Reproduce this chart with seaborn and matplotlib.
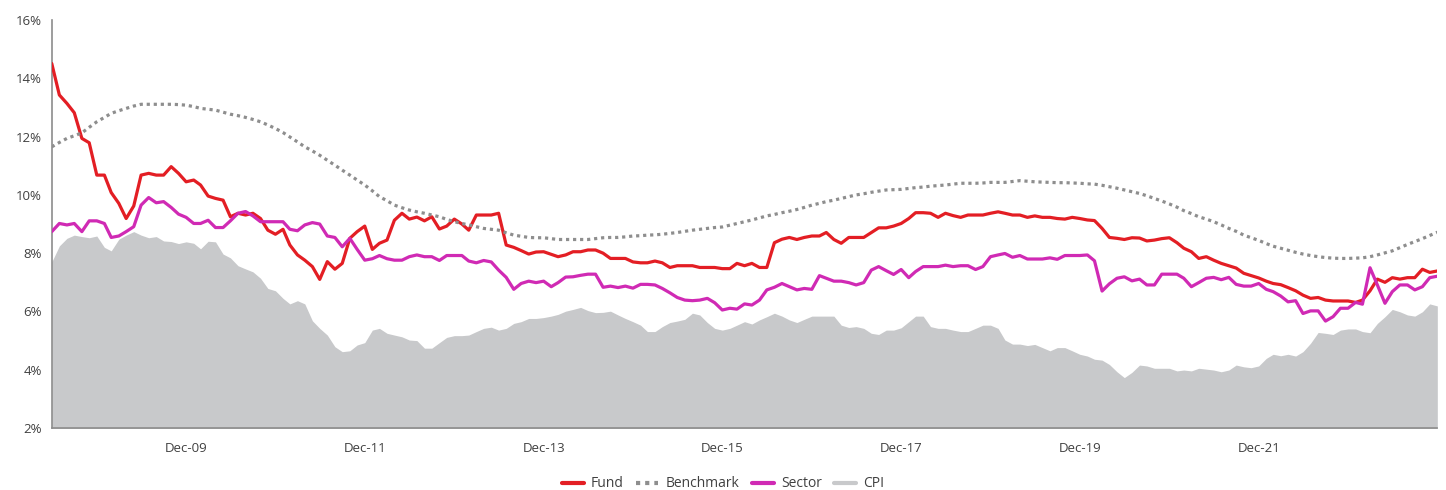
import pandas as pd
import matplotlib
matplotlib.use('Agg')
import matplotlib.pyplot as plt
from matplotlib.ticker import FuncFormatter
from matplotlib.lines import Line2D
import seaborn as sns

# monthly rolling returns, Jun-08 .. Dec-23 (%)
months = pd.date_range('2008-06-30', periods=187, freq='ME')

fund = [14.51, 13.43, 13.14, 12.82, 11.94, 11.79, 10.68, 10.68, 10.08, 9.71, 9.19, 9.62, 10.68, 10.74,
        10.68, 10.68, 10.97, 10.74, 10.45, 10.51, 10.34, 9.96, 9.88, 9.82, 9.25, 9.37, 9.31,
        9.37, 9.19, 8.79, 8.65, 8.82, 8.28, 7.94, 7.76, 7.54, 7.10, 7.71, 7.45, 7.65, 8.51, 8.74,
        8.93, 8.13, 8.34, 8.45, 9.13, 9.37, 9.17, 9.24, 9.11, 9.25, 8.83, 8.93, 9.17, 9.00, 8.79,
        9.31, 9.31, 9.31,
        9.37, 8.28, 8.20, 8.09, 7.97, 8.04, 8.05, 7.96, 7.88, 7.94, 8.05, 8.05, 8.11, 8.11, 8.00,
        7.82, 7.82, 7.82, 7.70, 7.67, 7.67, 7.73, 7.67, 7.51, 7.57, 7.57, 7.57, 7.51, 7.51, 7.51,
        7.47, 7.47,
        7.65, 7.57, 7.65, 7.51, 7.51, 8.36, 8.48, 8.54, 8.47, 8.54, 8.59, 8.59, 8.71, 8.47, 8.34,
        8.54, 8.54, 8.54, 8.71, 8.87, 8.87, 8.93, 9.02, 9.19, 9.39, 9.39, 9.37, 9.23, 9.37, 9.29,
        9.23, 9.31,
        9.31, 9.31, 9.37, 9.42, 9.37, 9.31, 9.31, 9.23, 9.28, 9.23, 9.23, 9.19, 9.17, 9.23, 9.19,
        9.14, 9.12, 8.85, 8.54, 8.51, 8.47, 8.53, 8.52, 8.42, 8.45, 8.50, 8.53, 8.36, 8.17, 8.05,
        7.82, 7.88,
        7.76, 7.65, 7.57, 7.49, 7.31, 7.23, 7.15, 7.04, 6.96, 6.92, 6.82, 6.71, 6.56, 6.45, 6.48,
        6.39, 6.36, 6.36, 6.36, 6.31, 6.39, 6.71, 7.11, 7.00, 7.16, 7.11, 7.16, 7.16, 7.45, 7.34,
        7.39]

benchmark = [11.65, 11.80, 11.94, 12.03, 12.13, 12.32, 12.51, 12.66, 12.80, 12.89, 12.97, 13.05,
             13.11, 13.11, 13.11, 13.11, 13.11, 13.10, 13.08, 13.03, 12.97, 12.94, 12.91, 12.84,
             12.77, 12.72, 12.66,
             12.59, 12.51, 12.40, 12.28, 12.14, 11.99, 11.82, 11.65, 11.51, 11.36, 11.19, 11.02,
             10.85, 10.68, 10.51, 10.34, 10.14, 9.94, 9.80, 9.65, 9.56, 9.48, 9.42, 9.37, 9.31,
             9.25, 9.16, 9.08, 9.02, 8.97, 8.91, 8.85, 8.82,
             8.79, 8.70, 8.62, 8.58, 8.54, 8.53, 8.53, 8.50, 8.47, 8.47, 8.47, 8.47, 8.47, 8.50,
             8.53, 8.54, 8.54, 8.56, 8.59, 8.60, 8.62, 8.63, 8.65, 8.68, 8.71, 8.75, 8.79, 8.82,
             8.85, 8.88, 8.90, 8.96,
             9.02, 9.08, 9.14, 9.21, 9.28, 9.33, 9.39, 9.44, 9.50, 9.57, 9.65, 9.71, 9.77, 9.82,
             9.88, 9.94, 10.00, 10.04, 10.09, 10.13, 10.17, 10.18, 10.19, 10.22, 10.25, 10.27,
             10.30, 10.32, 10.34, 10.37, 10.40, 10.40,
             10.40, 10.41, 10.43, 10.43, 10.43, 10.46, 10.49, 10.47, 10.45, 10.44, 10.43, 10.42,
             10.42, 10.41, 10.40, 10.38, 10.37, 10.33, 10.28, 10.23, 10.17, 10.11, 10.05, 9.97,
             9.88, 9.79, 9.69, 9.58, 9.46, 9.36, 9.25, 9.17,
             9.08, 8.97, 8.85, 8.75, 8.62, 8.53, 8.44, 8.33, 8.24, 8.17, 8.10, 8.03, 7.97, 7.92,
             7.88, 7.85, 7.83, 7.82, 7.82, 7.83, 7.84, 7.88, 7.94, 8.01, 8.08, 8.19, 8.30, 8.40,
             8.50, 8.61, 8.72]

sector = [8.74, 9.02, 8.97, 9.02, 8.74, 9.11, 9.11, 9.02, 8.54, 8.59, 8.74, 8.91, 9.65, 9.91,
          9.73, 9.77, 9.57, 9.34, 9.23, 9.02, 9.02, 9.13, 8.88, 8.88, 9.11, 9.37, 9.43,
          9.28, 9.08, 9.08, 9.08, 9.08, 8.82, 8.77, 8.97, 9.05, 9.00, 8.59, 8.54, 8.22, 8.51,
          8.13, 7.76, 7.81, 7.92, 7.81, 7.76, 7.76, 7.88, 7.94, 7.88, 7.88, 7.75, 7.92, 7.92,
          7.92, 7.73, 7.67, 7.75, 7.70,
          7.42, 7.17, 6.76, 6.96, 7.04, 6.99, 7.04, 6.85, 6.99, 7.18, 7.19, 7.24, 7.28, 7.28,
          6.83, 6.87, 6.82, 6.87, 6.80, 6.93, 6.93, 6.91, 6.79, 6.64, 6.48, 6.39, 6.37, 6.39,
          6.45, 6.30, 6.05, 6.11,
          6.08, 6.26, 6.22, 6.39, 6.74, 6.83, 6.96, 6.85, 6.74, 6.79, 6.76, 7.23, 7.14, 7.04,
          7.04, 6.99, 6.91, 6.99, 7.42, 7.54, 7.40, 7.27, 7.44, 7.16, 7.37, 7.54, 7.54, 7.54,
          7.59, 7.54, 7.57, 7.57,
          7.44, 7.54, 7.88, 7.94, 7.99, 7.86, 7.92, 7.80, 7.80, 7.80, 7.84, 7.79, 7.92, 7.92,
          7.92, 7.94, 7.74, 6.70, 6.95, 7.14, 7.19, 7.05, 7.11, 6.91, 6.91, 7.28, 7.28, 7.28,
          7.14, 6.85, 6.99, 7.14,
          7.17, 7.09, 7.17, 6.93, 6.87, 6.87, 6.96, 6.76, 6.68, 6.53, 6.33, 6.37, 5.93, 6.02,
          6.02, 5.67, 5.82, 6.11, 6.11, 6.31, 6.25, 7.50, 6.91, 6.28, 6.68, 6.91, 6.91, 6.74,
          6.85, 7.16, 7.21]

cpi = [7.70, 8.25, 8.51, 8.62, 8.57, 8.53, 8.59, 8.20, 8.08, 8.48, 8.62, 8.74, 8.62, 8.53, 8.57,
       8.42, 8.40, 8.33, 8.39, 8.34, 8.15, 8.41, 8.39, 7.97, 7.84, 7.57, 7.46,
       7.36, 7.14, 6.79, 6.71, 6.45, 6.26, 6.37, 6.26, 5.68, 5.42, 5.19, 4.79, 4.62, 4.65, 4.85,
       4.93, 5.36, 5.42, 5.25, 5.19, 5.13, 5.02, 5.00, 4.74, 4.74, 4.93, 5.11, 5.17, 5.17, 5.19,
       5.31, 5.42, 5.46,
       5.36, 5.42, 5.59, 5.65, 5.76, 5.76, 5.79, 5.84, 5.90, 6.01, 6.07, 6.14, 6.03, 5.96, 5.97,
       6.01, 5.88, 5.76, 5.65, 5.53, 5.31, 5.31, 5.48, 5.62, 5.67, 5.73, 5.94, 5.88, 5.62, 5.42,
       5.36, 5.42,
       5.53, 5.65, 5.57, 5.71, 5.82, 5.94, 5.84, 5.71, 5.62, 5.73, 5.84, 5.84, 5.84, 5.84, 5.53,
       5.45, 5.48, 5.42, 5.25, 5.21, 5.36, 5.36, 5.44, 5.65, 5.84, 5.84, 5.48, 5.42, 5.42, 5.36,
       5.31, 5.31,
       5.42, 5.53, 5.53, 5.42, 5.02, 4.88, 4.88, 4.83, 4.87, 4.76, 4.65, 4.76, 4.76, 4.65, 4.53,
       4.47, 4.36, 4.33, 4.18, 3.93, 3.73, 3.91, 4.16, 4.13, 4.05, 4.05, 4.05, 3.96, 3.99, 3.96,
       4.05, 4.02,
       3.99, 3.93, 3.99, 4.16, 4.10, 4.07, 4.13, 4.39, 4.53, 4.48, 4.53, 4.47, 4.62, 4.91, 5.28,
       5.25, 5.21, 5.36, 5.40, 5.40, 5.31, 5.27, 5.59, 5.82, 6.07, 5.99, 5.88, 5.84, 5.99, 6.26,
       6.19]

tick_dates = ['2009-12-31', '2011-12-31', '2013-12-31', '2015-12-31',
              '2017-12-31', '2019-12-31', '2021-12-31']
tick_labels = ['Dec-09', 'Dec-11', 'Dec-13', 'Dec-15', 'Dec-17', 'Dec-19', 'Dec-21']

colors = {'Fund': '#e31e24', 'Benchmark': '#8e8e8e', 'Sector': '#d02ab4'}
cpi_color = '#c8c9cb'

df = pd.DataFrame({'Month': months, 'Fund': fund, 'Benchmark': benchmark,
                   'Sector': sector, 'CPI': cpi})
long_df = df.melt(id_vars='Month', value_vars=['Fund', 'Benchmark', 'Sector'],
                  var_name='Series', value_name='Return')

sns.set_style('white')
plt.rcParams['font.family'] = ['Open Sans', 'DejaVu Sans']

fig = plt.figure(figsize=(14.46, 4.9), dpi=100)
ax = fig.add_axes([0.0358, 0.1265, 0.9582, 0.8325])

ax.fill_between(df['Month'], df['CPI'], 0, color=cpi_color, lw=0, zorder=1)
sns.lineplot(data=long_df, x='Month', y='Return', hue='Series', style='Series',
             hue_order=['Fund', 'Benchmark', 'Sector'], palette=colors,
             dashes={'Fund': '', 'Benchmark': (1, 1.2), 'Sector': ''},
             linewidth=2.3, legend=False, ax=ax, zorder=3)

ax.set_xlim(months[0], months[-1])
ax.set_ylim(2, 16)
ax.set_yticks(range(2, 17, 2))
ax.yaxis.set_major_formatter(FuncFormatter(lambda v, p: f'{v:.0f}%'))
ax.set_xticks(pd.to_datetime(tick_dates))
ax.set_xticklabels(tick_labels)
ax.set_xlabel('')
ax.set_ylabel('')

for side in ['top', 'right']:
    ax.spines[side].set_visible(False)
for side in ['left', 'bottom']:
    ax.spines[side].set_color('#8c8c8c')
    ax.spines[side].set_linewidth(1.2)
ax.tick_params(axis='both', which='major', direction='out', length=4, width=1,
               color='#8c8c8c', labelsize=9.5, labelcolor='#404040')
ax.tick_params(axis='y', pad=3)
ax.tick_params(axis='x', pad=6)

handles = [Line2D([], [], color=colors['Fund'], lw=3),
           Line2D([], [], color=colors['Benchmark'], lw=3, linestyle=(0, (1, 1.2))),
           Line2D([], [], color=colors['Sector'], lw=3),
           Line2D([], [], color=cpi_color, lw=3)]
fig.legend(handles, ['Fund', 'Benchmark', 'Sector', 'CPI'], loc='lower center',
           bbox_to_anchor=(0.5, -0.02), ncol=4, frameon=False, fontsize=10,
           handlelength=1.6, handletextpad=0.5, columnspacing=0.9, borderpad=0.1,
           labelcolor='#404040')

fig.savefig('out.png', dpi=100)
